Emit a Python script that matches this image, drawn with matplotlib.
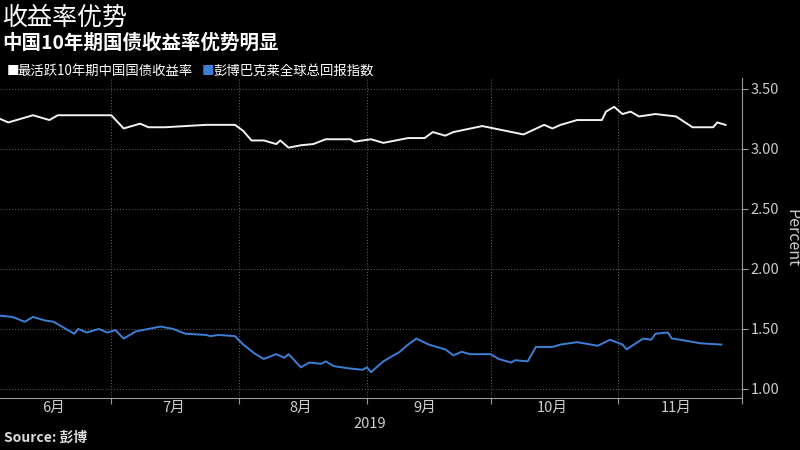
import matplotlib
matplotlib.use("Agg")
import matplotlib.pyplot as plt
from matplotlib import font_manager
import pandas as pd

cn_dates = ["2019-06-04","2019-06-06","2019-06-12","2019-06-16","2019-06-18","2019-06-23","2019-07-01","2019-07-04",
            "2019-07-08","2019-07-10","2019-07-14","2019-07-24","2019-07-31","2019-08-02","2019-08-04","2019-08-07",
            "2019-08-10","2019-08-11","2019-08-13","2019-08-16","2019-08-19","2019-08-22","2019-08-28","2019-08-29",
            "2019-09-02","2019-09-04","2019-09-05","2019-09-11","2019-09-15","2019-09-17","2019-09-20","2019-09-22",
            "2019-09-29","2019-10-09","2019-10-14","2019-10-16","2019-10-18","2019-10-22","2019-10-28","2019-10-29",
            "2019-10-31","2019-11-02","2019-11-04","2019-11-06","2019-11-10","2019-11-15","2019-11-19","2019-11-24",
            "2019-11-25","2019-11-27"]
cn_yield = [3.25,3.22,3.28,3.24,3.28,3.28,3.28,3.17,3.21,3.18,3.18,3.20,3.20,3.15,3.07,3.07,3.04,3.07,3.01,3.03,
            3.04,3.08,3.08,3.06,3.08,3.06,3.05,3.09,3.09,3.14,3.11,3.14,3.19,3.12,3.20,3.17,3.20,3.24,3.24,3.31,
            3.35,3.29,3.31,3.27,3.29,3.27,3.18,3.18,3.22,3.20]

gl_dates = ["2019-06-04","2019-06-07","2019-06-10","2019-06-12","2019-06-15","2019-06-17","2019-06-20","2019-06-22",
            "2019-06-23","2019-06-25","2019-06-28","2019-06-30","2019-07-02","2019-07-04","2019-07-07","2019-07-10",
            "2019-07-13","2019-07-16","2019-07-19","2019-07-24","2019-07-25","2019-07-27","2019-07-31","2019-08-02",
            "2019-08-05","2019-08-07","2019-08-10","2019-08-12","2019-08-13","2019-08-16","2019-08-18","2019-08-21",
            "2019-08-22","2019-08-24","2019-08-28","2019-08-31","2019-09-01","2019-09-02","2019-09-05","2019-09-09",
            "2019-09-11","2019-09-13","2019-09-16","2019-09-20","2019-09-22","2019-09-24","2019-09-26","2019-10-01",
            "2019-10-03","2019-10-06","2019-10-07","2019-10-10","2019-10-12","2019-10-16","2019-10-18","2019-10-22",
            "2019-10-27","2019-10-30","2019-11-02","2019-11-03","2019-11-07","2019-11-09","2019-11-10","2019-11-13",
            "2019-11-14","2019-11-16","2019-11-21","2019-11-26"]
gl_yield = [1.61,1.60,1.56,1.60,1.57,1.56,1.50,1.46,1.50,1.47,1.50,1.47,1.49,1.42,1.48,1.50,1.52,1.50,1.46,1.45,
            1.44,1.45,1.44,1.37,1.29,1.25,1.29,1.26,1.29,1.18,1.22,1.21,1.23,1.19,1.17,1.16,1.18,1.14,1.23,1.31,
            1.37,1.42,1.37,1.33,1.28,1.31,1.29,1.29,1.25,1.22,1.24,1.23,1.35,1.35,1.37,1.39,1.36,1.41,1.37,1.33,
            1.42,1.41,1.46,1.47,1.42,1.41,1.38,1.37]

month_labels = ["6月","7月","8月","9月","10月","11月"]
y_ticks = [1.00,1.50,2.00,2.50,3.00,3.50]
title = "收益率优势"
subtitle = "中国10年期国债收益率优势明显"
legend_labels = ["最活跃10年期中国国债收益率","彭博巴克莱全球总回报指数"]

avail = {f.name for f in font_manager.fontManager.ttflist}
cjk = [n for n in ["Noto Sans CJK SC", "Noto Sans CJK JP", "Noto Sans CJK TC", "Noto Sans CJK KR"] if n in avail]
if not cjk:
    cjk = sorted(n for n in avail if "CJK" in n)
plt.rcParams["font.family"] = "sans-serif"
plt.rcParams["font.sans-serif"] = cjk + ["DejaVu Sans"]

fig = plt.figure(figsize=(8, 4.5), dpi=100, facecolor="black")
ax = fig.add_axes([0.0, 0.1156, 0.9275, 0.711], facecolor="black")

ax.plot(pd.to_datetime(cn_dates), cn_yield, color="#f2f2f2", lw=1.4)
ax.plot(pd.to_datetime(gl_dates), gl_yield, color="#3d7fd6", lw=1.4)

ax.set_xlim(pd.Timestamp("2019-06-04"), pd.Timestamp("2019-12-01"))
ax.set_ylim(0.925, 3.59)
ax.yaxis.tick_right()
ax.set_yticks(y_ticks)
ax.set_yticklabels([f"{v:.2f}" for v in y_ticks], fontsize=10.5)
ax.tick_params(axis="y", colors="#999999", length=4, labelcolor="#cccccc", pad=2)

starts = pd.to_datetime(["2019-07-01","2019-08-01","2019-09-01","2019-10-01","2019-11-01","2019-12-01"])
mids = pd.to_datetime(["2019-06-17","2019-07-16","2019-08-16","2019-09-15","2019-10-16","2019-11-15"])
ax.set_xticks(starts)
ax.set_xticklabels([""] * len(starts))
ax.set_xticks(mids, minor=True)
ax.set_xticklabels(month_labels, minor=True, color="#cccccc", fontsize=10.5)
ax.tick_params(axis="x", which="major", colors="#999999", length=4)
ax.tick_params(axis="x", which="minor", length=0, pad=2)

ax.grid(True, which="major", color="#666666", linestyle=(0, (1, 2)), lw=0.7)
for s in ["top", "left"]:
    ax.spines[s].set_visible(False)
ax.spines["right"].set_color("#999999")
ax.spines["bottom"].set_color("#999999")

fig.text(0.4625, 0.058, "2019", ha="center", va="center", color="#cccccc", fontsize=10.5)
fig.text(0.99, 0.47, "Percent", rotation=270, ha="center", va="center", color="#cccccc", fontsize=11.5)

fig.text(0.003, 0.99, title, ha="left", va="top", color="white", fontsize=18)
fig.text(0.003, 0.925, subtitle, ha="left", va="top", color="white", fontsize=14, fontweight="bold")
fig.text(0.008, 0.842, "■", ha="left", va="center", color="white", fontsize=9)
fig.text(0.022, 0.842, legend_labels[0], ha="left", va="center", color="white", fontsize=9.6)
fig.text(0.252, 0.842, "■", ha="left", va="center", color="#3d7fd6", fontsize=9)
fig.text(0.266, 0.842, legend_labels[1], ha="left", va="center", color="white", fontsize=9.6)
fig.text(0.005, 0.012, "Source: 彭博", ha="left", va="bottom", color="#dddddd", fontsize=10, fontweight="bold")

fig.savefig("out.png", dpi=100, facecolor="black")
